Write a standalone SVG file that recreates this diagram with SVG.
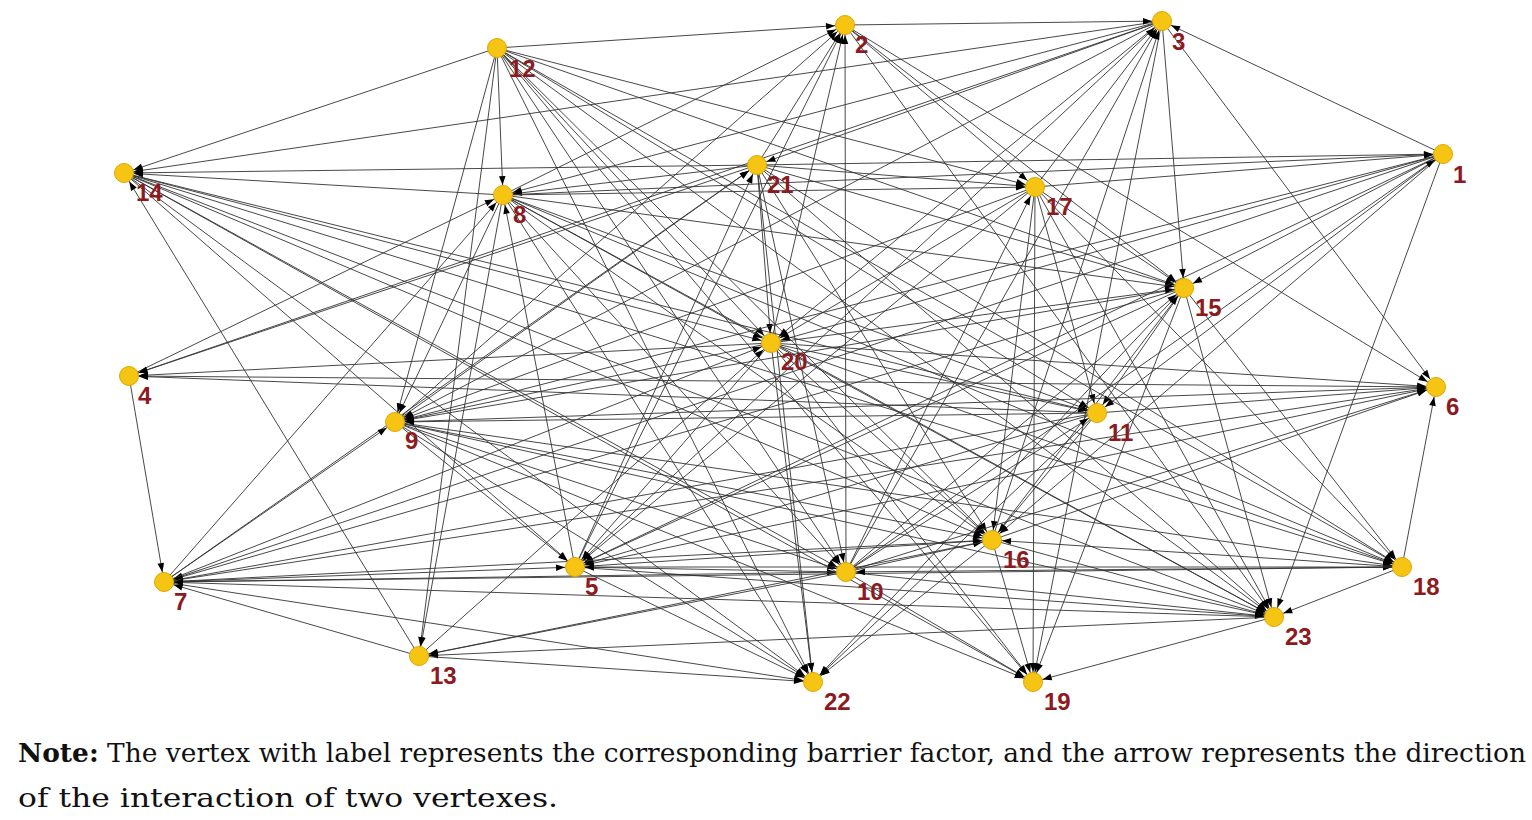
<svg xmlns="http://www.w3.org/2000/svg" width="1532" height="820" viewBox="0 0 1532 820">
<style>
.e{stroke:#333;stroke-width:0.9;fill:none;marker-end:url(#ah)}
.n circle{fill:#F6C413;stroke:#E0A500;stroke-width:1}
.n text{font-family:"Liberation Sans",Arial,sans-serif;font-weight:bold;font-size:24px;fill:#8C1A1E}
.note{font-family:"DejaVu Serif","Liberation Serif",serif;font-size:26px;fill:#111}
</style>
<defs>
<marker id="ah" markerUnits="userSpaceOnUse" viewBox="-22 -5 22 10" markerWidth="22" markerHeight="10" refX="0" refY="0" orient="auto">
<path d="M-10,0 L-19,-3.3 L-19,3.3 Z" fill="#000"/>
</marker>
</defs>
<rect width="1532" height="820" fill="#fff"/>
<g id="edges">
<line class="e" x1="497" y1="48" x2="845" y2="25"/>
<line class="e" x1="497" y1="48" x2="124" y2="173"/>
<line class="e" x1="497" y1="48" x2="503" y2="195"/>
<line class="e" x1="497" y1="48" x2="395" y2="422"/>
<line class="e" x1="497" y1="48" x2="419" y2="656"/>
<line class="e" x1="497" y1="48" x2="1035" y2="187"/>
<line class="e" x1="497" y1="48" x2="1184" y2="288"/>
<line class="e" x1="497" y1="48" x2="1402" y2="567"/>
<line class="e" x1="497" y1="48" x2="1097" y2="413"/>
<line class="e" x1="497" y1="48" x2="1274" y2="617"/>
<line class="e" x1="497" y1="48" x2="992" y2="540"/>
<line class="e" x1="497" y1="48" x2="771" y2="343"/>
<line class="e" x1="497" y1="48" x2="1033" y2="682"/>
<line class="e" x1="497" y1="48" x2="846" y2="572"/>
<line class="e" x1="497" y1="48" x2="813" y2="682"/>
<line class="e" x1="1162" y1="21" x2="124" y2="173"/>
<line class="e" x1="1162" y1="21" x2="757" y2="165"/>
<line class="e" x1="1162" y1="21" x2="503" y2="195"/>
<line class="e" x1="1162" y1="21" x2="395" y2="422"/>
<line class="e" x1="1162" y1="21" x2="771" y2="343"/>
<line class="e" x1="1162" y1="21" x2="1184" y2="288"/>
<line class="e" x1="1162" y1="21" x2="1033" y2="682"/>
<line class="e" x1="1162" y1="21" x2="1436" y2="387"/>
<line class="e" x1="1162" y1="21" x2="129" y2="376"/>
<line class="e" x1="845" y1="25" x2="1162" y2="21"/>
<line class="e" x1="1443" y1="154" x2="1162" y2="21"/>
<line class="e" x1="846" y1="572" x2="1162" y2="21"/>
<line class="e" x1="992" y1="540" x2="1162" y2="21"/>
<line class="e" x1="1035" y1="187" x2="1162" y2="21"/>
<line class="e" x1="575" y1="567" x2="1162" y2="21"/>
<line class="e" x1="503" y1="195" x2="845" y2="25"/>
<line class="e" x1="757" y1="165" x2="845" y2="25"/>
<line class="e" x1="395" y1="422" x2="845" y2="25"/>
<line class="e" x1="575" y1="567" x2="845" y2="25"/>
<line class="e" x1="771" y1="343" x2="845" y2="25"/>
<line class="e" x1="846" y1="572" x2="845" y2="25"/>
<line class="e" x1="845" y1="25" x2="1035" y2="187"/>
<line class="e" x1="845" y1="25" x2="1436" y2="387"/>
<line class="e" x1="845" y1="25" x2="1184" y2="288"/>
<line class="e" x1="845" y1="25" x2="1274" y2="617"/>
<line class="e" x1="124" y1="173" x2="771" y2="343"/>
<line class="e" x1="124" y1="173" x2="1097" y2="413"/>
<line class="e" x1="124" y1="173" x2="575" y2="567"/>
<line class="e" x1="124" y1="173" x2="813" y2="682"/>
<line class="e" x1="124" y1="173" x2="846" y2="572"/>
<line class="e" x1="124" y1="173" x2="1033" y2="682"/>
<line class="e" x1="124" y1="173" x2="1274" y2="617"/>
<line class="e" x1="124" y1="173" x2="992" y2="540"/>
<line class="e" x1="124" y1="173" x2="1402" y2="567"/>
<line class="e" x1="503" y1="195" x2="124" y2="173"/>
<line class="e" x1="419" y1="656" x2="124" y2="173"/>
<line class="e" x1="129" y1="376" x2="503" y2="195"/>
<line class="e" x1="129" y1="376" x2="164" y2="582"/>
<line class="e" x1="757" y1="165" x2="129" y2="376"/>
<line class="e" x1="1436" y1="387" x2="129" y2="376"/>
<line class="e" x1="1097" y1="413" x2="129" y2="376"/>
<line class="e" x1="757" y1="165" x2="503" y2="195"/>
<line class="e" x1="757" y1="165" x2="1443" y2="154"/>
<line class="e" x1="757" y1="165" x2="1035" y2="187"/>
<line class="e" x1="757" y1="165" x2="1184" y2="288"/>
<line class="e" x1="757" y1="165" x2="771" y2="343"/>
<line class="e" x1="757" y1="165" x2="992" y2="540"/>
<line class="e" x1="757" y1="165" x2="846" y2="572"/>
<line class="e" x1="757" y1="165" x2="813" y2="682"/>
<line class="e" x1="757" y1="165" x2="1274" y2="617"/>
<line class="e" x1="757" y1="165" x2="1402" y2="567"/>
<line class="e" x1="757" y1="165" x2="124" y2="173"/>
<line class="e" x1="395" y1="422" x2="757" y2="165"/>
<line class="e" x1="575" y1="567" x2="757" y2="165"/>
<line class="e" x1="164" y1="582" x2="757" y2="165"/>
<line class="e" x1="503" y1="195" x2="1035" y2="187"/>
<line class="e" x1="503" y1="195" x2="1184" y2="288"/>
<line class="e" x1="503" y1="195" x2="771" y2="343"/>
<line class="e" x1="503" y1="195" x2="1097" y2="413"/>
<line class="e" x1="503" y1="195" x2="992" y2="540"/>
<line class="e" x1="503" y1="195" x2="846" y2="572"/>
<line class="e" x1="503" y1="195" x2="1274" y2="617"/>
<line class="e" x1="503" y1="195" x2="1402" y2="567"/>
<line class="e" x1="503" y1="195" x2="395" y2="422"/>
<line class="e" x1="503" y1="195" x2="419" y2="656"/>
<line class="e" x1="503" y1="195" x2="813" y2="682"/>
<line class="e" x1="503" y1="195" x2="1443" y2="154"/>
<line class="e" x1="575" y1="567" x2="503" y2="195"/>
<line class="e" x1="164" y1="582" x2="503" y2="195"/>
<line class="e" x1="1035" y1="187" x2="1184" y2="288"/>
<line class="e" x1="1035" y1="187" x2="1097" y2="413"/>
<line class="e" x1="1035" y1="187" x2="992" y2="540"/>
<line class="e" x1="1035" y1="187" x2="1033" y2="682"/>
<line class="e" x1="1035" y1="187" x2="1274" y2="617"/>
<line class="e" x1="1035" y1="187" x2="1402" y2="567"/>
<line class="e" x1="1035" y1="187" x2="771" y2="343"/>
<line class="e" x1="1035" y1="187" x2="395" y2="422"/>
<line class="e" x1="1035" y1="187" x2="575" y2="567"/>
<line class="e" x1="1035" y1="187" x2="1443" y2="154"/>
<line class="e" x1="1443" y1="154" x2="771" y2="343"/>
<line class="e" x1="1443" y1="154" x2="395" y2="422"/>
<line class="e" x1="1443" y1="154" x2="575" y2="567"/>
<line class="e" x1="1443" y1="154" x2="992" y2="540"/>
<line class="e" x1="1443" y1="154" x2="1097" y2="413"/>
<line class="e" x1="1443" y1="154" x2="1274" y2="617"/>
<line class="e" x1="1443" y1="154" x2="1184" y2="288"/>
<line class="e" x1="1443" y1="154" x2="164" y2="582"/>
<line class="e" x1="1184" y1="288" x2="1097" y2="413"/>
<line class="e" x1="1184" y1="288" x2="1274" y2="617"/>
<line class="e" x1="1184" y1="288" x2="1402" y2="567"/>
<line class="e" x1="1184" y1="288" x2="1033" y2="682"/>
<line class="e" x1="1184" y1="288" x2="395" y2="422"/>
<line class="e" x1="1184" y1="288" x2="575" y2="567"/>
<line class="e" x1="1184" y1="288" x2="164" y2="582"/>
<line class="e" x1="1184" y1="288" x2="813" y2="682"/>
<line class="e" x1="771" y1="343" x2="1184" y2="288"/>
<line class="e" x1="846" y1="572" x2="1184" y2="288"/>
<line class="e" x1="992" y1="540" x2="1184" y2="288"/>
<line class="e" x1="771" y1="343" x2="395" y2="422"/>
<line class="e" x1="771" y1="343" x2="575" y2="567"/>
<line class="e" x1="771" y1="343" x2="992" y2="540"/>
<line class="e" x1="771" y1="343" x2="813" y2="682"/>
<line class="e" x1="771" y1="343" x2="1033" y2="682"/>
<line class="e" x1="771" y1="343" x2="1436" y2="387"/>
<line class="e" x1="771" y1="343" x2="1097" y2="413"/>
<line class="e" x1="771" y1="343" x2="1274" y2="617"/>
<line class="e" x1="771" y1="343" x2="1402" y2="567"/>
<line class="e" x1="771" y1="343" x2="129" y2="376"/>
<line class="e" x1="164" y1="582" x2="771" y2="343"/>
<line class="e" x1="419" y1="656" x2="771" y2="343"/>
<line class="e" x1="395" y1="422" x2="575" y2="567"/>
<line class="e" x1="395" y1="422" x2="992" y2="540"/>
<line class="e" x1="395" y1="422" x2="846" y2="572"/>
<line class="e" x1="395" y1="422" x2="1274" y2="617"/>
<line class="e" x1="395" y1="422" x2="1402" y2="567"/>
<line class="e" x1="395" y1="422" x2="813" y2="682"/>
<line class="e" x1="395" y1="422" x2="1033" y2="682"/>
<line class="e" x1="164" y1="582" x2="395" y2="422"/>
<line class="e" x1="1097" y1="413" x2="395" y2="422"/>
<line class="e" x1="1436" y1="387" x2="395" y2="422"/>
<line class="e" x1="1097" y1="413" x2="575" y2="567"/>
<line class="e" x1="1097" y1="413" x2="813" y2="682"/>
<line class="e" x1="1097" y1="413" x2="164" y2="582"/>
<line class="e" x1="1097" y1="413" x2="992" y2="540"/>
<line class="e" x1="1436" y1="387" x2="575" y2="567"/>
<line class="e" x1="1402" y1="567" x2="1436" y2="387"/>
<line class="e" x1="164" y1="582" x2="1436" y2="387"/>
<line class="e" x1="846" y1="572" x2="1436" y2="387"/>
<line class="e" x1="992" y1="540" x2="1436" y2="387"/>
<line class="e" x1="1097" y1="413" x2="1436" y2="387"/>
<line class="e" x1="164" y1="582" x2="575" y2="567"/>
<line class="e" x1="164" y1="582" x2="992" y2="540"/>
<line class="e" x1="164" y1="582" x2="846" y2="572"/>
<line class="e" x1="164" y1="582" x2="813" y2="682"/>
<line class="e" x1="164" y1="582" x2="1402" y2="567"/>
<line class="e" x1="419" y1="656" x2="164" y2="582"/>
<line class="e" x1="1274" y1="617" x2="164" y2="582"/>
<line class="e" x1="575" y1="567" x2="813" y2="682"/>
<line class="e" x1="575" y1="567" x2="1274" y2="617"/>
<line class="e" x1="575" y1="567" x2="1402" y2="567"/>
<line class="e" x1="575" y1="567" x2="992" y2="540"/>
<line class="e" x1="846" y1="572" x2="1097" y2="413"/>
<line class="e" x1="846" y1="572" x2="1443" y2="154"/>
<line class="e" x1="846" y1="572" x2="1035" y2="187"/>
<line class="e" x1="846" y1="572" x2="992" y2="540"/>
<line class="e" x1="846" y1="572" x2="419" y2="656"/>
<line class="e" x1="846" y1="572" x2="1033" y2="682"/>
<line class="e" x1="846" y1="572" x2="575" y2="567"/>
<line class="e" x1="846" y1="572" x2="1274" y2="617"/>
<line class="e" x1="992" y1="540" x2="1033" y2="682"/>
<line class="e" x1="992" y1="540" x2="813" y2="682"/>
<line class="e" x1="992" y1="540" x2="419" y2="656"/>
<line class="e" x1="992" y1="540" x2="1274" y2="617"/>
<line class="e" x1="1402" y1="567" x2="1274" y2="617"/>
<line class="e" x1="1402" y1="567" x2="992" y2="540"/>
<line class="e" x1="1402" y1="567" x2="846" y2="572"/>
<line class="e" x1="1274" y1="617" x2="419" y2="656"/>
<line class="e" x1="1274" y1="617" x2="1033" y2="682"/>
<line class="e" x1="419" y1="656" x2="813" y2="682"/>
</g>
<g id="n1" class="n"><circle cx="1443" cy="154" r="9.5"/><text x="1453" y="183">1</text></g>
<g id="n2" class="n"><circle cx="845" cy="25" r="9.5"/><text x="855" y="53">2</text></g>
<g id="n3" class="n"><circle cx="1162" cy="21" r="9.5"/><text x="1172" y="50">3</text></g>
<g id="n4" class="n"><circle cx="129" cy="376" r="9.5"/><text x="138" y="404">4</text></g>
<g id="n5" class="n"><circle cx="575" cy="567" r="9.5"/><text x="585" y="595">5</text></g>
<g id="n6" class="n"><circle cx="1436" cy="387" r="9.5"/><text x="1446" y="415">6</text></g>
<g id="n7" class="n"><circle cx="164" cy="582" r="9.5"/><text x="174" y="610">7</text></g>
<g id="n8" class="n"><circle cx="503" cy="195" r="9.5"/><text x="513" y="223">8</text></g>
<g id="n9" class="n"><circle cx="395" cy="422" r="9.5"/><text x="405" y="449">9</text></g>
<g id="n10" class="n"><circle cx="846" cy="572" r="9.5"/><text x="857" y="600">10</text></g>
<g id="n11" class="n"><circle cx="1097" cy="413" r="9.5"/><text x="1108" y="441">11</text></g>
<g id="n12" class="n"><circle cx="497" cy="48" r="9.5"/><text x="509" y="77">12</text></g>
<g id="n13" class="n"><circle cx="419" cy="656" r="9.5"/><text x="430" y="684">13</text></g>
<g id="n14" class="n"><circle cx="124" cy="173" r="9.5"/><text x="136" y="201">14</text></g>
<g id="n15" class="n"><circle cx="1184" cy="288" r="9.5"/><text x="1195" y="316">15</text></g>
<g id="n16" class="n"><circle cx="992" cy="540" r="9.5"/><text x="1003" y="568">16</text></g>
<g id="n17" class="n"><circle cx="1035" cy="187" r="9.5"/><text x="1046" y="215">17</text></g>
<g id="n18" class="n"><circle cx="1402" cy="567" r="9.5"/><text x="1413" y="595">18</text></g>
<g id="n19" class="n"><circle cx="1033" cy="682" r="9.5"/><text x="1044" y="710">19</text></g>
<g id="n20" class="n"><circle cx="771" cy="343" r="9.5"/><text x="781" y="370">20</text></g>
<g id="n21" class="n"><circle cx="757" cy="165" r="9.5"/><text x="767" y="193">21</text></g>
<g id="n22" class="n"><circle cx="813" cy="682" r="9.5"/><text x="824" y="710">22</text></g>
<g id="n23" class="n"><circle cx="1274" cy="617" r="9.5"/><text x="1285" y="645">23</text></g>
<text class="note" x="18" y="762" textLength="1508" lengthAdjust="spacingAndGlyphs"><tspan font-weight="bold">Note:</tspan> The vertex with label represents the corresponding barrier factor, and the arrow represents the direction</text>
<text class="note" x="18" y="807" textLength="540" lengthAdjust="spacingAndGlyphs">of the interaction of two vertexes.</text>
</svg>
